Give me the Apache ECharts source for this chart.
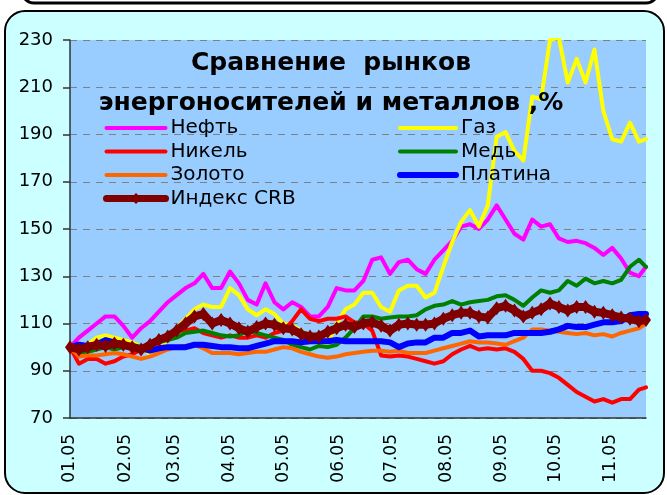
<!DOCTYPE html>
<html>
<head>
<meta charset="utf-8">
<script src="https://cdn.jsdelivr.net/npm/echarts/dist/echarts.min.js"></script>
<style>
    html, body { margin: 0; padding: 0; background: #fff; }
    #chart { width: 667px; height: 495px; }
</style>
</head>
<body>
<div id="chart"></div>
<script>
// дни от 01.01.05
var days = [0, 5, 10, 15, 20, 25, 30, 35, 40, 45, 50, 55, 60, 65, 70, 75, 80, 85, 90, 95,
    100, 105, 110, 115, 120, 125, 130, 135, 140, 145, 150, 155, 160, 165, 170, 175, 180, 185, 190, 195,
    200, 205, 210, 215, 220, 225, 230, 235, 240, 245, 250, 255, 260, 265, 270, 275, 280, 285, 290, 295,
    300, 305, 310, 315, 320, 324];
var monthStarts = [0, 31, 59, 90, 120, 151, 181, 212, 243, 273, 304];
var monthLabels = ['01.05', '02.05', '03.05', '04.05', '05.05', '06.05', '07.05', '08.05', '09.05', '10.05', '11.05'];

var oil = [100, 104, 107, 110, 113, 113, 109, 104, 108, 111,
    115, 119, 122, 125, 127, 131, 125, 125, 132, 127,
    120, 118, 127, 119, 116, 119, 117, 113, 113, 117,
    125, 124, 124, 128, 137, 138, 131, 136, 137, 133,
    131, 137, 141, 145, 151, 152, 150, 154, 160, 154,
    148, 145.5, 154, 151, 152, 146, 144.5, 145, 144, 142,
    139, 142, 137.5, 131.5, 130, 134];
var gas = [100, 97, 101, 104, 105, 104, 103, 102, 100, 97,
    98, 104, 108, 112, 116, 118, 117, 117, 125, 122,
    116, 113.5, 116, 114, 110, 109, 107, 104, 101, 102,
    110, 116, 118, 123, 123, 117, 115, 124, 126, 126,
    121, 123, 134, 144.5, 153, 158, 151, 160, 189, 191,
    183, 179, 206, 205, 230, 231, 212, 222, 212, 226,
    200, 188, 187, 195, 187, 188];
var nickel = [100, 93, 95, 95, 93, 94, 96, 97, 99, 101,
    103, 105, 107, 107, 108, 106, 105, 104, 105, 104,
    104, 105, 104, 106, 107, 111, 116, 112, 111, 112,
    112, 113, 110.5, 110, 107, 96.5, 96, 96.5, 96, 95,
    94, 93, 94, 97, 99, 100.5, 99, 99.5, 99, 99.5,
    98, 95, 90, 90, 89, 87, 84, 81, 79, 77,
    78, 76.5, 78, 78, 82, 83];
var copper = [100, 97, 98, 99, 100, 99, 100, 101, 100, 101,
    102, 103, 104, 106, 106.5, 107, 106, 105, 104.5, 105,
    107, 106, 105, 104, 103, 101, 100, 99, 100.5, 100,
    101, 104, 108, 113, 113, 112, 112.5, 113, 113, 113.5,
    116, 117.5, 118, 119.5, 118, 119, 119.5, 120, 121.5, 122,
    120, 117.5, 121, 124, 123, 124, 128, 126, 129, 127,
    128, 127, 128.5, 134, 137, 134];
var gold = [100, 96, 96.5, 96.5, 97, 97.5, 97, 96, 95, 96,
    97.5, 99, 100, 100.5, 101, 99.5, 97.5, 97.5, 97.5, 97,
    97.5, 98, 98, 99, 100, 99.5, 98, 97, 96, 95.5,
    96, 97, 97.5, 98, 98.5, 98.5, 98, 98.5, 97.5, 97.5,
    97.5, 98.5, 99.5, 100.5, 101.5, 102.5, 102, 102, 101.5, 101,
    102.5, 104, 107.5, 107.5, 107, 106.5, 106, 105.5, 106, 105,
    105.5, 104.5, 106, 107, 108, 110];
var platinum = [100, 101, 100.5, 101, 103, 102, 101, 100, 99.5, 98.5,
    99.5, 100, 100, 100, 101, 101, 100.5, 100, 100, 99.5,
    99.5, 100.5, 101.5, 102.5, 102.5, 102.5, 102, 102.5, 102.5, 102.5,
    103, 102.5, 102.5, 102.5, 102.5, 102.5, 102, 100, 101.5, 102,
    102, 104, 104, 106, 106, 107, 104.5, 105, 105, 105,
    106, 106, 106, 106, 106.5, 107.5, 109, 108.5, 108.5, 109.5,
    110.5, 110.5, 111, 113.5, 114, 114];
var crb = [100, 99, 100, 101, 100.5, 101.5, 101, 100, 99, 101,
    103, 104.5, 107, 110, 113, 114, 110, 111.5, 110, 108,
    106.5, 108.5, 110, 109.5, 108, 107.5, 105.5, 104.5, 104.5, 106.5,
    108, 109.5, 108.5, 110, 110.5, 109, 107, 109.5, 110, 109.5,
    109.5, 110, 112, 113.5, 114.5, 114.5, 113, 112.5, 116.5, 117.5,
    115.5, 113, 114.5, 116, 118.5, 117, 115.5, 117, 117, 115,
    114.5, 113.5, 112.5, 112, 111, 111.5];

var font = 'DejaVu Sans';

function pairs(values) {
    var res = [];
    for (var i = 0; i < days.length; i++) {
        res.push([days[i], values[i]]);
    }
    return res;
}

function lineSeries(name, values, color, width) {
    return {
        name: name,
        type: 'line',
        data: pairs(values),
        symbol: 'none',
        lineStyle: { color: color, width: width, cap: 'round', join: 'round' },
        itemStyle: { color: color }
    };
}

// пункт легенды: только линия, без кружка
function legendLine(name, width) {
    return { name: name, lineStyle: { width: width, cap: 'round' }, itemStyle: { opacity: 0 } };
}

var chart = echarts.init(document.getElementById('chart'));
var option = {
    animation: false,
    backgroundColor: '#ffffff',
    textStyle: { fontFamily: font },
    graphic: [
        {
            type: 'rect', z: -100,
            shape: { x: 22, y: -30, width: 636, height: 33, r: 12 },
            style: { fill: '#ffffff', stroke: '#000000', lineWidth: 3 }
        },
        {
            type: 'rect', z: -100,
            shape: { x: 5, y: 11, width: 659, height: 482, r: 20 },
            style: { fill: '#CCFFFF', stroke: '#000000', lineWidth: 2 }
        },
        {
            type: 'text', z: 100, x: 331, y: 63,
            style: {
                text: 'Сравнение  рынков', fill: '#000',
                font: 'bold 25px "DejaVu Sans"',
                textAlign: 'center', textVerticalAlign: 'middle', align: 'center', verticalAlign: 'middle'
            }
        },
        {
            type: 'text', z: 100, x: 331, y: 103,
            style: {
                text: 'энергоносителей и металлов ,%', fill: '#000',
                font: 'bold 25px "DejaVu Sans"',
                textAlign: 'center', textVerticalAlign: 'middle', align: 'center', verticalAlign: 'middle'
            }
        }
    ],
    grid: {
        left: 70, top: 40, right: 21, bottom: 77,
        show: true, backgroundColor: '#99CCFF', borderWidth: 0
    },
    legend: [
        {
            left: 103, top: 118, orient: 'vertical', padding: 0,
            itemWidth: 59, itemHeight: 14, itemGap: 3.5,
            selectedMode: false,
            textStyle: { fontFamily: font, fontSize: 20, lineHeight: 20, color: '#000' },
            data: [
                legendLine('Нефть', 4),
                legendLine('Никель', 4),
                legendLine('Золото', 4),
                { name: 'Индекс CRB', lineStyle: { width: 7, cap: 'round' } }
            ]
        },
        {
            left: 397, top: 118, orient: 'vertical', padding: 0,
            itemWidth: 56, itemHeight: 14, itemGap: 3.5,
            selectedMode: false,
            textStyle: { fontFamily: font, fontSize: 20, lineHeight: 20, color: '#000' },
            data: [
                legendLine('Газ', 4),
                legendLine('Медь', 4),
                legendLine('Платина', 6)
            ]
        }
    ],
    xAxis: {
        type: 'value', min: 0, max: 324,
        splitLine: { show: false },
        axisLine: { show: true, lineStyle: { color: '#333', width: 1.5 } },
        axisTick: { show: false },
        axisLabel: {
            customValues: monthStarts,
            rotate: 90, fontSize: 17, color: '#000', margin: 16,
            formatter: function (v) {
                var i = monthStarts.indexOf(v);
                return i >= 0 ? monthLabels[i] : '';
            }
        }
    },
    yAxis: {
        type: 'value', min: 70, max: 230, interval: 20,
        axisLine: { show: true, lineStyle: { color: '#333', width: 1.5 } },
        axisTick: { show: true, length: 7, lineStyle: { color: '#333', width: 1.5 } },
        axisLabel: { fontSize: 18, color: '#000', margin: 17 },
        splitLine: { show: true, lineStyle: { type: [7, 6], color: '#808080', width: 1 } }
    },
    series: [
        lineSeries('Нефть', oil, '#FF00FF', 4),
        lineSeries('Газ', gas, '#FFFF00', 4),
        lineSeries('Никель', nickel, '#FF0000', 4),
        lineSeries('Медь', copper, '#008000', 4),
        lineSeries('Золото', gold, '#FF6600', 4),
        lineSeries('Платина', platinum, '#0000FF', 6),
        {
            name: 'Индекс CRB',
            type: 'line',
            data: pairs(crb),
            symbol: 'diamond',
            symbolSize: [10, 14],
            lineStyle: { color: '#800000', width: 8, join: 'round' },
            itemStyle: { color: '#800000' }
        }
    ]
};
chart.setOption(option);
</script>
</body>
</html>
